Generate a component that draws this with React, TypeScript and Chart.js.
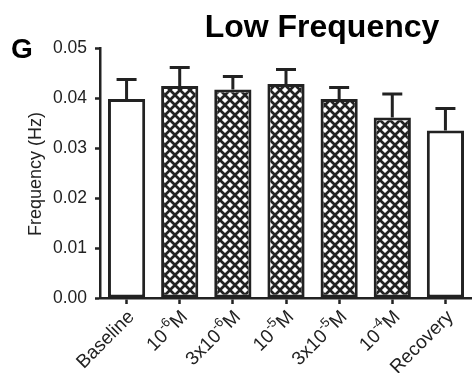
import { useEffect, useRef } from 'react';
import { Chart, registerables } from 'chart.js';

Chart.register(...registerables);

// Categories (superscript characters are drawn as raised small text)
const categories = ['Baseline', '10⁻⁶M', '3x10⁻⁶M', '10⁻⁵M', '3x10⁻⁵M', '10⁻⁴M', 'Recovery'];
// Mean low-frequency values (Hz)
const means = [0.0398, 0.0424, 0.0417, 0.0428, 0.0398, 0.0361, 0.0335];
// Upper error (SEM)
const sem = [0.0039, 0.0037, 0.0026, 0.0029, 0.0023, 0.0047, 0.0044];
// Drug-treatment bars are cross-hatched; baseline and recovery are open
const hatched = [false, true, true, true, true, true, false];
const yMin = 0;
const yMax = 0.05;
const yStep = 0.01;

const titleText = 'Low Frequency';
const panelLetter = 'G';
const yTitle = 'Frequency (Hz)';

const FONT = '"Liberation Sans", Arial, Helvetica, sans-serif';
const INK = '#222222';

const SUP: Record<string, string> = {
  '⁻': '-', '⁰': '0', '¹': '1', '²': '2', '³': '3', '⁴': '4',
  '⁵': '5', '⁶': '6', '⁷': '7', '⁸': '8', '⁹': '9',
};

function splitRuns(label: string) {
  const runs: { text: string; sup: boolean }[] = [];
  for (const ch of label) {
    const sup = ch in SUP;
    const c = sup ? SUP[ch] : ch;
    const last = runs[runs.length - 1];
    if (last && last.sup === sup) last.text += c;
    else runs.push({ text: c, sup });
  }
  return runs;
}

function makeHatch(): CanvasPattern | string {
  const size = 10;
  const c = document.createElement('canvas');
  c.width = size;
  c.height = size;
  const g = c.getContext('2d');
  if (!g) return '#fff';
  g.fillStyle = '#fff';
  g.fillRect(0, 0, size, size);
  g.strokeStyle = INK;
  g.lineWidth = 2.7;
  g.beginPath();
  g.moveTo(-2, -2); g.lineTo(size + 2, size + 2);
  g.moveTo(size + 2, -2); g.lineTo(-2, size + 2);
  g.stroke();
  const p = g.createPattern(c, 'repeat');
  return p || '#fff';
}

const LABEL_SIZE = 19;
const SUP_SIZE = 13;

const decorPlugin = {
  id: 'decor',
  afterDatasetsDraw(chart: any) {
    const ctx = chart.ctx as CanvasRenderingContext2D;
    const y = chart.scales.y;
    const meta = chart.getDatasetMeta(0);
    ctx.save();
    // error bars
    ctx.strokeStyle = INK;
    ctx.lineWidth = 3;
    ctx.lineCap = 'butt';
    meta.data.forEach((bar: any, i: number) => {
      const top = y.getPixelForValue(means[i] + sem[i]);
      ctx.beginPath();
      ctx.moveTo(bar.x, bar.y);
      ctx.lineTo(bar.x, top);
      ctx.moveTo(bar.x - 10, top);
      ctx.lineTo(bar.x + 10, top);
      ctx.stroke();
    });
    ctx.restore();
  },
  afterDraw(chart: any) {
    const ctx = chart.ctx as CanvasRenderingContext2D;
    const area = chart.chartArea;
    const x = chart.scales.x;
    ctx.save();
    ctx.fillStyle = '#000';
    // title
    ctx.font = `bold 32px ${FONT}`;
    ctx.textAlign = 'center';
    ctx.textBaseline = 'alphabetic';
    ctx.fillText(titleText, 322, 37);
    // panel letter
    ctx.font = `bold 28px ${FONT}`;
    ctx.textAlign = 'left';
    ctx.fillText(panelLetter, 11, 58);
    // y axis title
    ctx.fillStyle = INK;
    ctx.font = `18px ${FONT}`;
    ctx.save();
    ctx.translate(41, (area.top + area.bottom) / 2 + 1);
    ctx.rotate(-Math.PI / 2);
    ctx.textAlign = 'center';
    ctx.textBaseline = 'alphabetic';
    ctx.fillText(yTitle, 0, 0);
    ctx.restore();
    // rotated category labels with superscripts
    categories.forEach((label, i) => {
      const px = x.getPixelForValue(i);
      const runs = splitRuns(label);
      let total = 0;
      runs.forEach((r) => {
        ctx.font = r.sup ? `${SUP_SIZE}px ${FONT}` : `${LABEL_SIZE}px ${FONT}`;
        total += ctx.measureText(r.text).width;
      });
      ctx.save();
      ctx.translate(px + 5, area.bottom + 16);
      ctx.rotate(-Math.PI / 4);
      ctx.textBaseline = 'middle';
      ctx.textAlign = 'left';
      let cx = -total;
      runs.forEach((r) => {
        ctx.font = r.sup ? `${SUP_SIZE}px ${FONT}` : `${LABEL_SIZE}px ${FONT}`;
        ctx.fillText(r.text, cx, r.sup ? -7 : 0);
        cx += ctx.measureText(r.text).width;
      });
      ctx.restore();
    });
    ctx.restore();
  },
};

export default function App() {
  const ref = useRef<HTMLCanvasElement | null>(null);

  useEffect(() => {
    if (!ref.current) return;
    const hatch = makeHatch();
    const chart = new Chart(ref.current, {
      type: 'bar',
      data: {
        labels: categories,
        datasets: [
          {
            data: means,
            backgroundColor: hatched.map((h) => (h ? hatch : '#ffffff')) as any,
            borderColor: INK,
            borderWidth: 3,
            borderSkipped: false,
            barPercentage: 0.7,
            categoryPercentage: 1,
          },
        ],
      },
      options: {
        responsive: false,
        animation: false,
        devicePixelRatio: 1,
        layout: { padding: { top: 48, left: 0, right: 0, bottom: 0 } },
        plugins: {
          legend: { display: false },
          title: { display: false },
          tooltip: { enabled: false },
        },
        scales: {
          x: {
            offset: true,
            grid: {
              drawOnChartArea: false,
              drawTicks: true,
              tickLength: 6,
              tickWidth: 2.5,
              tickColor: INK,
              offset: false,
            },
            border: { display: true, color: INK, width: 2.5 },
            ticks: { display: false },
            afterFit: (s: any) => {
              s.height = 75;
            },
          },
          y: {
            min: yMin,
            max: yMax,
            grid: {
              drawOnChartArea: false,
              drawTicks: true,
              tickLength: 5,
              tickWidth: 2.5,
              tickColor: INK,
            },
            border: { display: true, color: INK, width: 2.5 },
            ticks: {
              stepSize: yStep,
              padding: 8,
              color: INK,
              font: { family: FONT, size: 17.5 },
              callback: (v: any) => Number(v).toFixed(2),
            },
            afterFit: (s: any) => {
              s.width = 100;
            },
          },
        },
      },
      plugins: [decorPlugin],
    });
    return () => chart.destroy();
  }, []);

  return (
    <div style={{ position: 'fixed', left: 0, top: 0, width: 472, height: 373, background: '#fff' }}>
      <canvas ref={ref} width={472} height={373} />
    </div>
  );
}
